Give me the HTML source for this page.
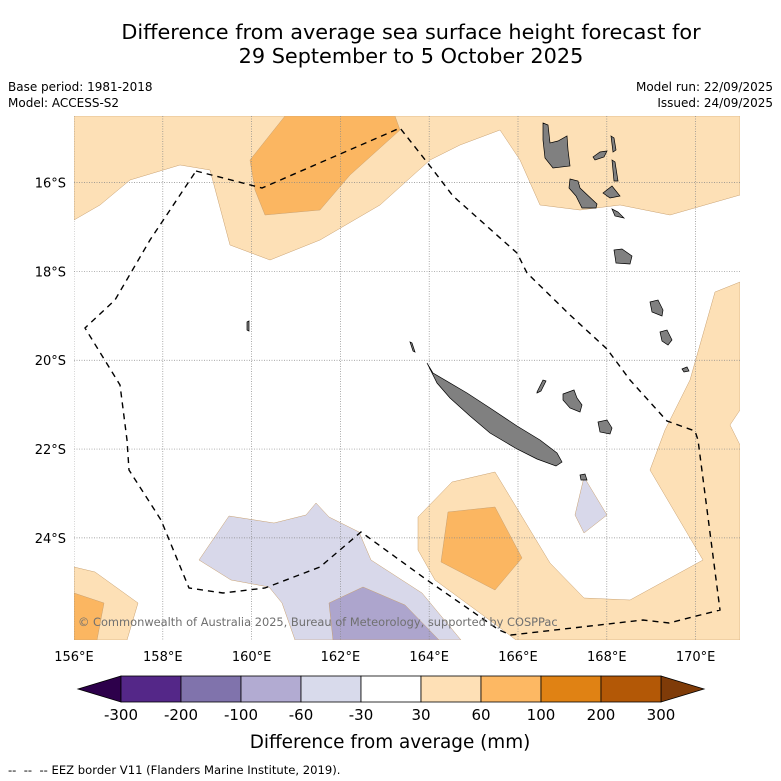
<!DOCTYPE html>
<html><head><meta charset="utf-8">
<style>
body{margin:0;background:#fff;width:781px;height:781px;overflow:hidden;font-family:"Liberation Sans","DejaVu Sans",sans-serif}
svg{display:block}
text{font-family:"DejaVu Sans","Liberation Sans",sans-serif}
</style></head>
<body>
<svg id="chart" width="781" height="781" viewBox="0 0 781 781">
<text x="411" y="39" font-size="20.8" text-anchor="middle">Difference from average sea surface height forecast for</text>
<text x="411" y="63" font-size="20.8" text-anchor="middle">29 September to 5 October 2025</text>
<text x="8" y="91" font-size="12">Base period: 1981-2018</text>
<text x="8" y="107" font-size="12">Model: ACCESS-S2</text>
<text x="773" y="91" font-size="12" text-anchor="end">Model run: 22/09/2025</text>
<text x="773" y="107" font-size="12" text-anchor="end">Issued: 24/09/2025</text>
<defs><clipPath id="mc"><rect x="74" y="116" width="666" height="524"/></clipPath></defs>
<g clip-path="url(#mc)">
<g stroke="#c8a070" stroke-width="0.5">
<path fill="#fde0b6" d="M74,116 L740,116 L740,195 L670,215 L620,205 L580,210 L540,205 L520,160 L500,130 L460,145 L430,160 L380,205 L320,240 L270,260 L230,245 L210,170 L180,165 L130,180 L100,205 L74,220Z"/>
<path fill="#fbb661" d="M285,116 L395,116 L400,130 L350,175 L320,210 L265,215 L255,190 L250,160Z"/>
<path fill="#fde0b6" d="M418,517 L452,482 L495,472 L550,563 L584,598 L630,600 L703,560 L650,470 L665,430 L690,380 L715,292 L740,282 L740,410 L730,425 L740,445 L740,640 L516,640 L499,627 L435,580 L418,550Z"/>
<path fill="#fbb661" d="M448,512 L495,507 L522,558 L495,590 L441,562Z"/>
<path fill="#fde0b6" d="M74,567 L95,572 L138,603 L127,640 L74,640Z"/>
<path fill="#fbb661" d="M74,593 L104,603 L97,640 L74,640Z"/>
<path fill="#d8d8ea" d="M199,560 L229,516 L274,523 L306,515 L316,503 L329,517 L359,532 L371,560 L422,593 L461,640 L295,640 L282,603 L269,587 L231,580Z"/>
<path fill="#ada5cd" d="M329,603 L363,587 L405,605 L439,640 L333,640Z"/>
<path fill="#d8d8ea" d="M584,477 L607,515 L584,533 L575,515Z"/>
</g>
<g id="grid" stroke="#888" stroke-width="0.7" stroke-dasharray="1,1.5"></g>
<g fill="#808080" stroke="#000" stroke-width="0.7">
<path d="M427,363 L433,373 L467,393 L490,408 L517,426 L540,440 L557,453 L562,462 L556,466 L537,459 L517,449 L490,433 L470,416 L450,398 L437,383Z"/>
<path d="M543,123 L548,125 L550,143 L558,141 L567,136 L568,150 L570,166 L553,168 L545,158 L543,140Z"/>
<path d="M570,179 L578,181 L580,188 L597,204 L596,208 L582,208 L576,196 L569,188Z"/>
<path d="M593,157 L600,152 L607,151 L604,157 L595,160Z"/>
<path d="M611,136 L614,138 L616,150 L613,152Z M612,160 L615,162 L618,181 L614,181Z"/>
<path d="M603,193 L612,186 L620,196 L610,198Z"/>
<path d="M614,250 L622,249 L632,256 L630,264 L616,263Z"/>
<path d="M612,209 L618,212 L624,218 L615,216Z"/>
<path d="M650,302 L658,300 L663,310 L662,316 L652,312Z"/>
<path d="M660,332 L667,330 L672,340 L668,345 L662,341Z"/>
<path d="M682,369 L687,367 L689,371 L684,372Z"/>
<path d="M537,392 L543,380 L546,381 L541,391 L537,393Z"/>
<path d="M563,394 L574,390 L577,398 L582,405 L580,412 L570,408 L563,400Z"/>
<path d="M598,422 L607,420 L612,428 L610,434 L600,432Z"/>
<path d="M580,475 L585,474 L587,480 L581,480Z"/>
<path d="M247,322 L249,321 L249,331 L247,330Z"/>
<path d="M410,342 L412,343 L415,352 L413,351Z"/>
</g>
<path id="eez" fill="none" stroke="#000" stroke-width="1.4" stroke-dasharray="6,5" d="M196,171 L262,188 L400,128 L430,166 L453,196 L517,253 L527,273 L570,315 L607,349 L630,380 L667,421 L695,431 L698,440 L720,610 L669,623 L643,620 L511,635 L499,630 L427,580 L361,532 L320,567 L265,588 L223,593 L189,588 L161,520 L129,470 L127,440 L120,385 L85,328 L115,300 L150,240 Z"/>
<text x="78" y="626" font-size="11.4" fill="#707070">© Commonwealth of Australia 2025, Bureau of Meteorology, supported by COSPPac</text>
</g>
<g id="ticks" font-size="13"></g>
<g id="cbar"></g>
<text x="390" y="748" font-size="18.4" text-anchor="middle">Difference from average (mm)</text>
<text x="8" y="774" font-size="11.6" style="white-space:pre">--  --  -- EEZ border V11 (Flanders Marine Institute, 2019).</text>
</svg>
<script>
const lonTicks=[156,158,160,162,164,166,168,170];
const latTicks=[16,18,20,22,24];
const cbLevels=[-300,-200,-100,-60,-30,30,60,100,200,300];
const cbColors=["#542788","#8073ac","#b2abd2","#d8daeb","#ffffff","#fee0b6","#fdb863","#e08214","#b35806"];
const cbUnder="#2d004b", cbOver="#7f3b08";
const NS="http://www.w3.org/2000/svg";
const X0=74,X1=740,Y0=116,Y1=640,LON0=156,LON1=171,LAT0=14.5,LAT1=26.3;
function xLon(l){return X0+(l-LON0)/(LON1-LON0)*(X1-X0);}
function yLat(l){return Y0+(l-LAT0)/(LAT1-LAT0)*(Y1-Y0);}
function mk(t,a,p){const e=document.createElementNS(NS,t);for(const k in a)e.setAttribute(k,a[k]);p.appendChild(e);return e;}
const grid=document.getElementById('grid'),ticks=document.getElementById('ticks');
lonTicks.forEach(v=>{const x=xLon(v);
const l=mk('line',{x1:x,x2:x,y1:Y0,y2:Y1},grid);


const t=mk('text',{x:x,y:661,'text-anchor':'middle'},ticks);t.textContent=v+'°E';

});
latTicks.forEach(v=>{const y=yLat(v);
const l=mk('line',{x1:X0,x2:X1,y1:y,y2:y},grid);


const t=mk('text',{x:66,y:y+5,'text-anchor':'end'},ticks);t.textContent=v+'°S';

});
const cb=document.getElementById('cbar');
const CX0=121,CW=60,CY=676,CH=26,n=cbColors.length;
function cx(i){return CX0+i*CW;}
const tl=mk('polygon',{points:`${cx(0)},${CY} ${cx(0)-43},${CY+CH/2} ${cx(0)},${CY+CH}`,fill:cbUnder,stroke:'#000','stroke-width':0.8},cb);


const tr=mk('polygon',{points:`${cx(n)},${CY} ${cx(n)+43},${CY+CH/2} ${cx(n)},${CY+CH}`,fill:cbOver,stroke:'#000','stroke-width':0.8},cb);


cbColors.forEach((c,i)=>{const r=mk('rect',{x:cx(i),y:CY,width:CW,height:CH,fill:c,stroke:'#000','stroke-width':0.8},cb);

});
cbLevels.forEach((v,i)=>{const t=mk('text',{x:cx(i),y:720,'text-anchor':'middle','font-size':15},cb);t.textContent=v;

});
</script>
</body></html>
